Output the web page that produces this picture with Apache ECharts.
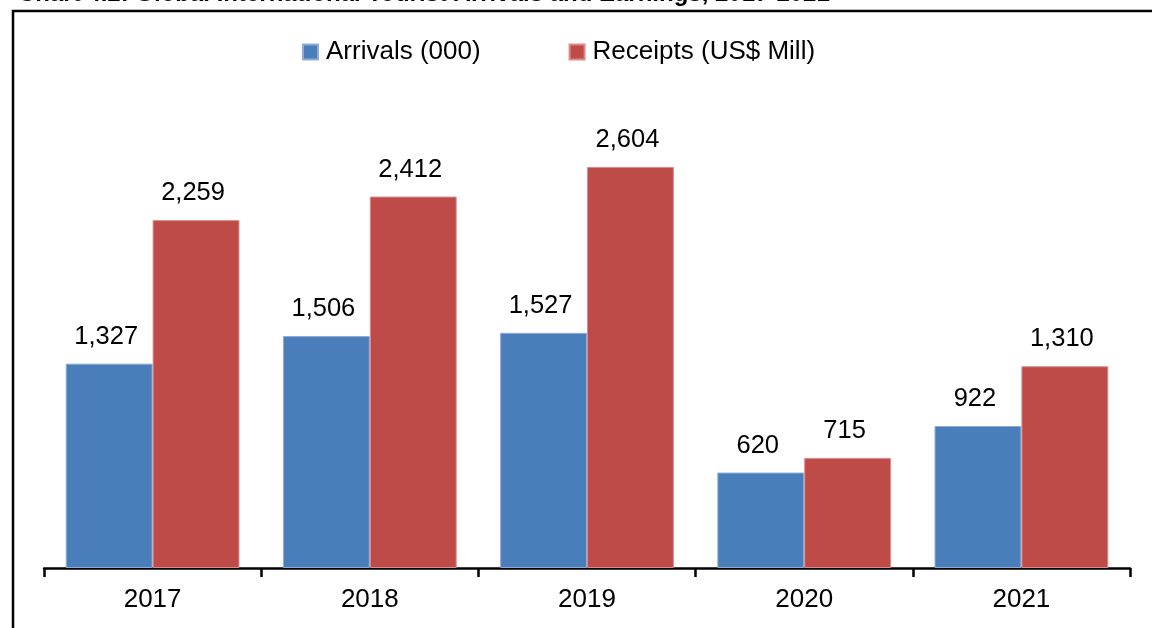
<!DOCTYPE html>
<html>
<head>
<meta charset="utf-8">
<style>
  html, body { margin: 0; padding: 0; background: #ffffff; }
  #chart { width: 1152px; height: 628px; }
</style>
<script src="https://cdn.jsdelivr.net/npm/echarts@6/dist/echarts.min.js"></script>
</head>
<body>
<div id="chart"></div>
<script>
// Chart data
const years = ['2017', '2018', '2019', '2020', '2021'];
const arrivals = [1327, 1506, 1527, 620, 922];       // thousands
const receipts = [2259, 2412, 2604, 715, 1310];      // US$ millions
const seriesNames = ['Arrivals (000)', 'Receipts (US$ Mill)'];
const titleText = 'Chart 4.2: Global International Tourist Arrivals and Earnings, 2017-2021';

const FONT = '"Liberation Sans", Arial, Helvetica, sans-serif';
const BLUE = '#4a7ebb';
const RED = '#be4b48';

const chart = echarts.init(document.getElementById('chart'), null, { renderer: 'canvas' });

const fmt = v => v.toLocaleString('en-US');

function barSeries(name, data, color, edge) {
  return {
    name: name,
    type: 'bar',
    data: data,
    barGap: '0%',
    barCategoryGap: '20%',
    itemStyle: { color: color, borderColor: edge, borderWidth: 1 },
    label: {
      show: true,
      position: 'top',
      distance: 14,
      offset: [-3, 0],
      color: '#000',
      fontFamily: FONT,
      fontSize: 25.5,
      formatter: p => fmt(p.value)
    },
    emphasis: { disabled: true },
    animation: false
  };
}

chart.setOption({
  animation: false,
  backgroundColor: '#ffffff',
  graphic: [
    {
      type: 'text',
      left: 18,
      top: -18,
      style: {
        text: titleText,
        fill: '#000',
        font: 'bold 24px ' + FONT
      }
    },
    {
      type: 'rect',
      shape: { x: 13, y: 11, width: 1300, height: 800 },
      style: { fill: 'none', stroke: '#000', lineWidth: 2.5 },
      silent: true
    }
  ],
  legend: {
    top: 34,
    left: 297,
    itemWidth: 15,
    itemHeight: 15,
    itemGap: 88,
    icon: 'rect',
    textStyle: { fontFamily: FONT, fontSize: 26, color: '#000', padding: [0, 0, 0, 3] },
    data: seriesNames
  },
  grid: { left: 44, right: 22, top: 106, bottom: 60, containLabel: false },
  xAxis: {
    type: 'category',
    data: years,
    axisLine: { lineStyle: { color: '#000', width: 2.5 } },
    axisTick: { show: true, length: 9, lineStyle: { color: '#000', width: 2.5 } },
    axisLabel: { color: '#000', fontFamily: FONT, fontSize: 26, margin: 19 }
  },
  yAxis: {
    type: 'value',
    min: 0,
    max: 3000,
    show: false,
    splitLine: { show: false }
  },
  series: [
    barSeries(seriesNames[0], arrivals, BLUE, '#8eacd8'),
    barSeries(seriesNames[1], receipts, RED, '#d98c8a')
  ]
});
</script>
</body>
</html>
